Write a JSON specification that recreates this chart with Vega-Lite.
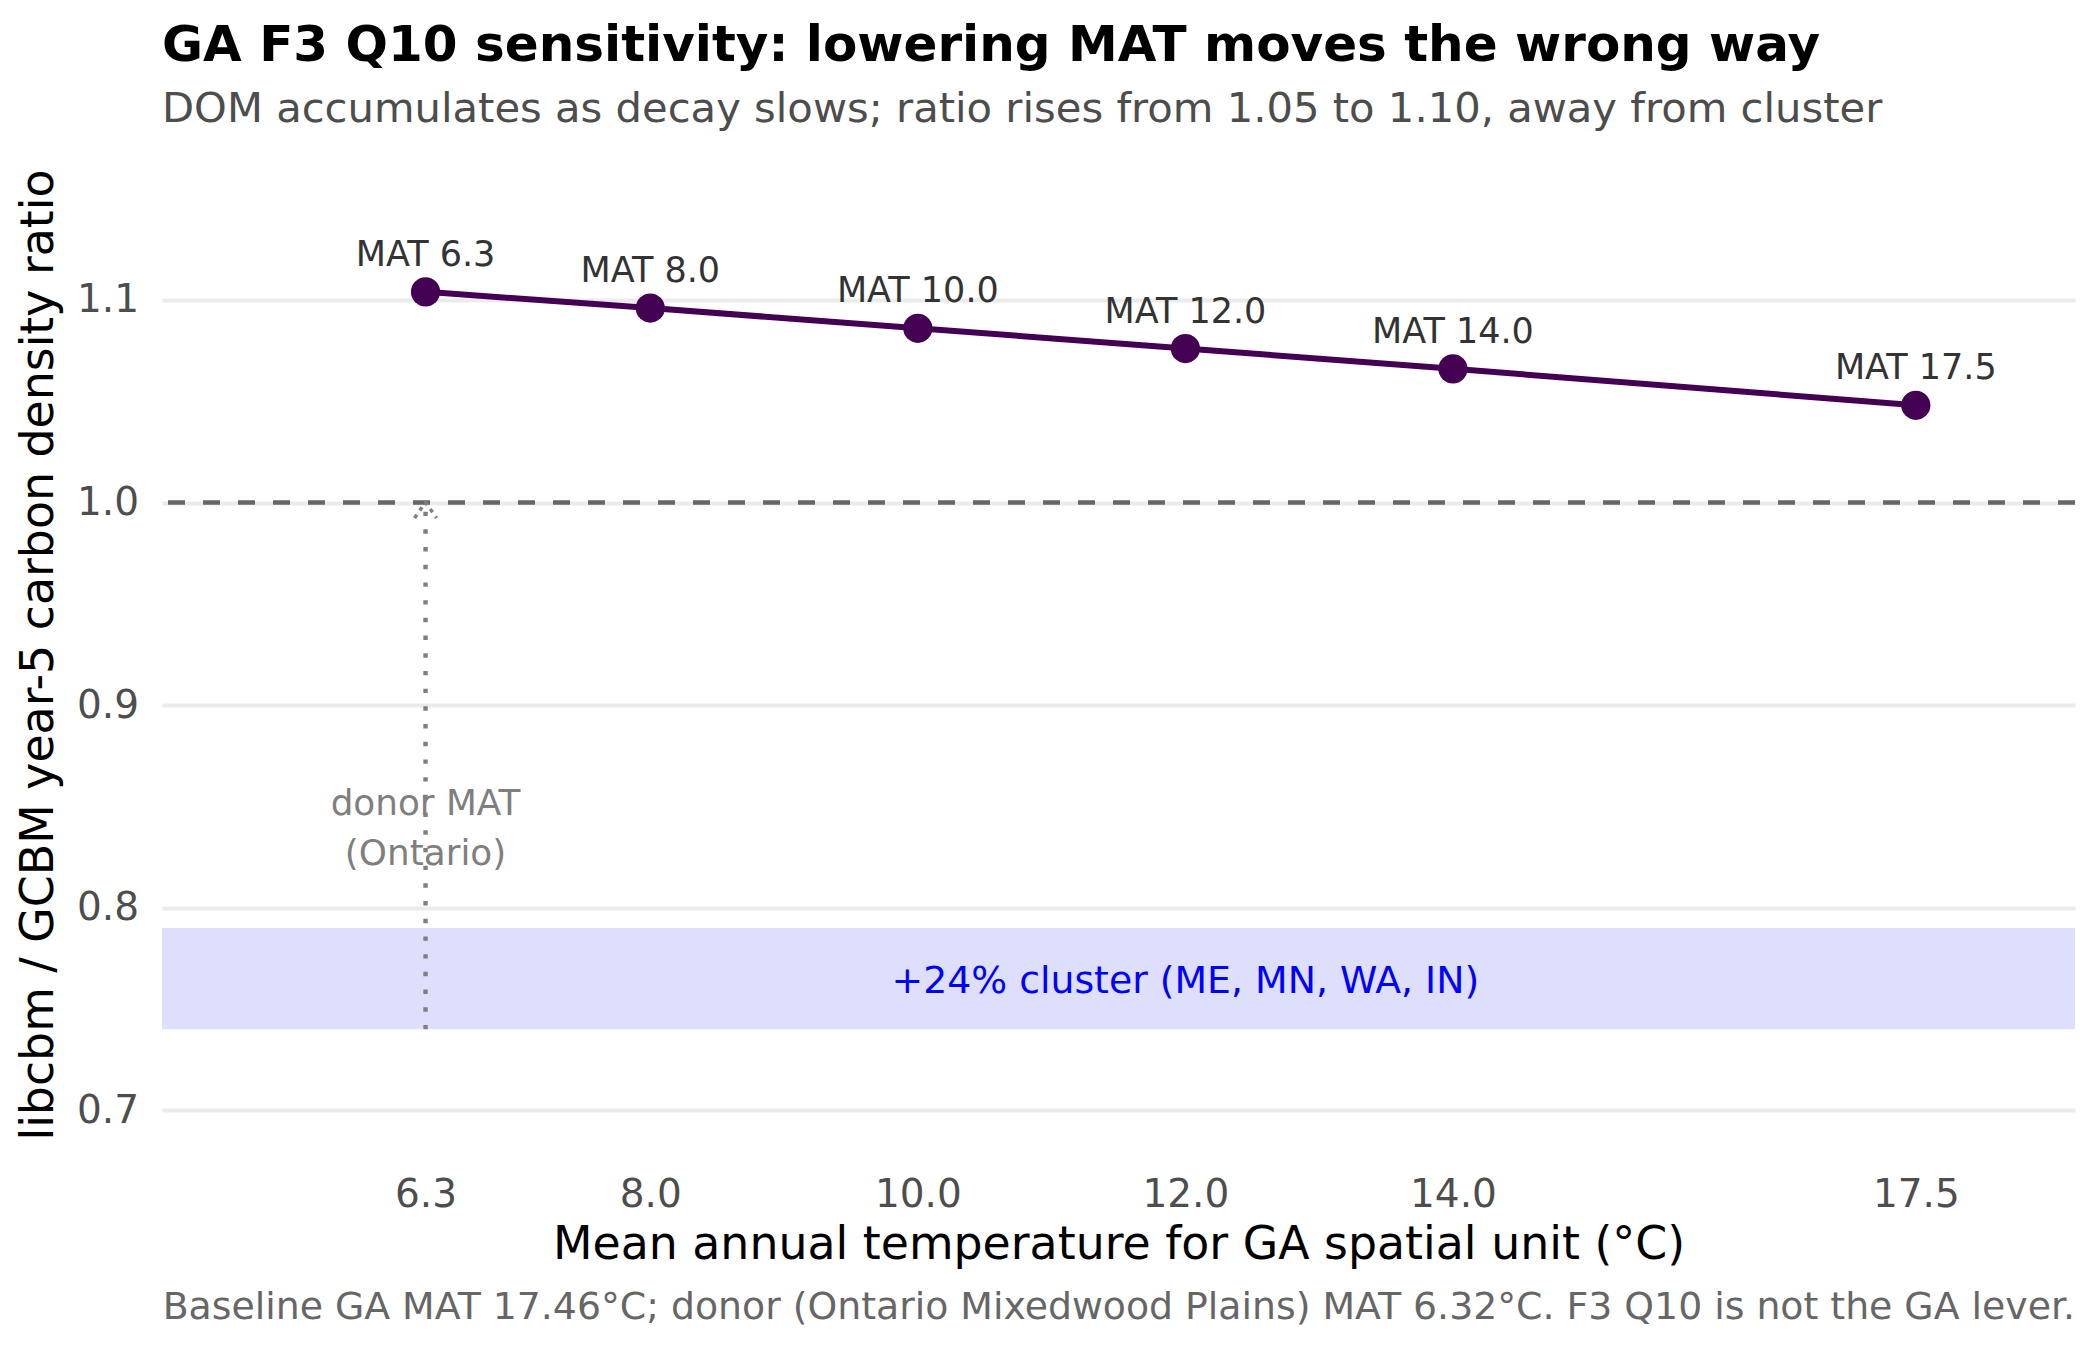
{
  "$schema": "https://vega.github.io/schema/vega-lite/v6.json",
  "width": 1913,
  "height": 1003,
  "autosize": {"type": "none"},
  "padding": {"left": 162, "top": 153, "right": 25, "bottom": 194},
  "background": "white",
  "title": {
    "text": "GA F3 Q10 sensitivity: lowering MAT moves the wrong way",
    "subtitle": "DOM accumulates as decay slows; ratio rises from 1.05 to 1.10, away from cluster",
    "anchor": "start",
    "frame": "group",
    "font": "DejaVu Sans",
    "subtitleFont": "DejaVu Sans",
    "fontSize": 50,
    "fontWeight": "bold",
    "color": "#000000",
    "subtitleFontSize": 41.7,
    "subtitleColor": "#4d4d4d",
    "subtitlePadding": 18.5,
    "offset": 22
  },
  "config": {
    "font": "DejaVu Sans",
    "view": {"stroke": null},
    "axis": {
      "domain": false,
      "ticks": false,
      "labelFont": "DejaVu Sans",
      "titleFont": "DejaVu Sans",
      "labelFontSize": 39,
      "labelColor": "#4d4d4d",
      "titleFontSize": 45.8,
      "titleFontWeight": "normal",
      "titleColor": "#000000",
      "gridColor": "#ebebeb",
      "gridWidth": 4
    }
  },
  "layer": [
    {
      "data": {"values": [{"lo": 0.74, "hi": 0.79}]},
      "mark": {"type": "rect", "color": "#dedefd"},
      "encoding": {
        "y": {"field": "lo", "type": "quantitative", "scale": {"domain": [0.6775, 1.1725], "nice": false, "zero": false}},
        "y2": {"field": "hi"}
      }
    },
    {
      "data": {"values": [{"ratio": 1.0}]},
      "mark": {"type": "rule", "color": "#666666", "strokeWidth": 4.4, "strokeDash": [17, 18]},
      "encoding": {
        "y": {"field": "ratio", "type": "quantitative"}
      }
    },
    {
      "data": {"values": [{"mat": 6.32, "lo": 0.74, "hi": 1.0}]},
      "mark": {"type": "rule", "color": "#7f7f7f", "strokeWidth": 4.4, "strokeDash": [4.4, 13.3]},
      "encoding": {
        "x": {"field": "mat", "type": "quantitative"},
        "y": {"field": "lo", "type": "quantitative"},
        "y2": {"field": "hi"}
      }
    },
    {
      "data": {"values": [{"mat": 6.32, "ratio": 1.0}]},
      "mark": {"type": "point", "shape": "M-1,1.4L0,0L1,1.4", "size": 484, "filled": false, "stroke": "#7f7f7f", "strokeWidth": 3.5, "strokeDash": [4, 5], "opacity": 1},
      "encoding": {
        "x": {"field": "mat", "type": "quantitative"},
        "y": {"field": "ratio", "type": "quantitative"}
      }
    },
    {
      "data": {"values": [
        {"mat": 6.32, "ratio": 1.104, "label": "MAT 6.3"},
        {"mat": 8.0, "ratio": 1.096, "label": "MAT 8.0"},
        {"mat": 10.0, "ratio": 1.086, "label": "MAT 10.0"},
        {"mat": 12.0, "ratio": 1.076, "label": "MAT 12.0"},
        {"mat": 14.0, "ratio": 1.066, "label": "MAT 14.0"},
        {"mat": 17.46, "ratio": 1.048, "label": "MAT 17.5"}
      ]},
      "encoding": {
        "x": {
          "field": "mat", "type": "quantitative",
          "scale": {"domain": [4.35, 18.65], "nice": false, "zero": false},
          "axis": {
            "values": [6.32, 8, 10, 12, 14, 17.46],
            "format": ".1f",
            "grid": false,
            "labelPadding": 19,
            "title": "Mean annual temperature for GA spatial unit (°C)",
            "titlePadding": 8
          }
        },
        "y": {
          "field": "ratio", "type": "quantitative",
          "axis": {
            "values": [0.7, 0.8, 0.9, 1.0, 1.1],
            "format": ".1f",
            "grid": true,
            "labelPadding": 23.5,
            "title": "libcbm / GCBM year-5 carbon density ratio",
            "titlePadding": 14
          }
        }
      },
      "layer": [
        {"mark": {"type": "line", "color": "#440154", "strokeWidth": 6}},
        {"mark": {"type": "circle", "color": "#440154", "size": 855, "opacity": 1}},
        {"mark": {"type": "text", "baseline": "middle", "dy": -37, "fontSize": 35, "color": "#333333"}, "encoding": {"text": {"field": "label"}}}
      ]
    },
    {
      "data": {"values": [{"mat": 6.32, "ratio": 0.851, "txt": ["donor MAT", "(Ontario)"]}]},
      "mark": {"type": "text", "baseline": "middle", "align": "center", "fontSize": 35.8, "lineHeight": 50, "color": "#7f7f7f"},
      "encoding": {
        "x": {"field": "mat", "type": "quantitative"},
        "y": {"field": "ratio", "type": "quantitative"},
        "text": {"field": "txt"}
      }
    },
    {
      "data": {"values": [{"mat": 12.0, "ratio": 0.7635, "txt": "+24% cluster (ME, MN, WA, IN)"}]},
      "mark": {"type": "text", "baseline": "middle", "align": "center", "fontSize": 37.8, "color": "#0000ff"},
      "encoding": {
        "x": {"field": "mat", "type": "quantitative"},
        "y": {"field": "ratio", "type": "quantitative"},
        "text": {"field": "txt"}
      }
    },
    {
      "data": {"values": [{"mat": 18.65, "ratio": 0.5973, "txt": "Baseline GA MAT 17.46°C; donor (Ontario Mixedwood Plains) MAT 6.32°C. F3 Q10 is not the GA lever."}]},
      "mark": {"type": "text", "baseline": "alphabetic", "align": "right", "fontSize": 37.8, "color": "#666666"},
      "encoding": {
        "x": {"field": "mat", "type": "quantitative"},
        "y": {"field": "ratio", "type": "quantitative"},
        "text": {"field": "txt"}
      }
    }
  ]
}
